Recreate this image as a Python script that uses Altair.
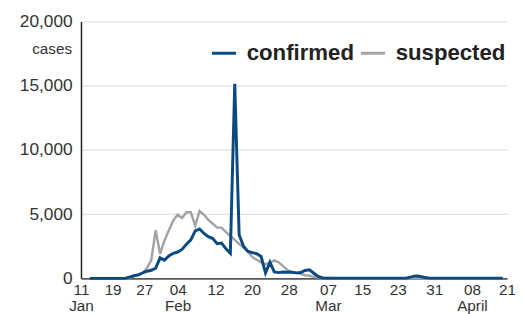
import json
import altair as alt
import pandas as pd

# day index: 0 = 11 Jan
days = list(range(2, 97))
confirmed = [
    0, 0, 0, 0, 0, 0, 0, 0, 0,
    100, 200, 260, 420, 560, 630, 800, 1600, 1420, 1750,
    1950, 2050, 2250, 2650, 3000, 3700, 3850, 3500, 3250, 3100,
    2700, 2750, 2300, 1950, 15150, 3400, 2500, 2100, 2000, 1920,
    1700, 420, 1250, 500, 450, 500, 470, 480, 430, 450,
    620, 660, 400, 150, 40, 20, 20, 20, 20, 20,
    20, 20, 20, 20, 20, 20, 20, 20, 20, 20,
    20, 20, 20, 20, 100, 190, 170, 90, 40, 20,
    20, 20, 20, 20, 20, 20, 20, 20, 20, 20,
    20, 20, 20, 20, 20, 20,
]
suspected = [
    0, 0, 0, 0, 0, 0, 0, 0, 0,
    50, 150, 300, 420, 800, 1400, 3750, 1900, 2950, 3750,
    4500, 4950, 4700, 5150, 5150, 4100, 5250, 4950, 4550, 4250,
    3950, 3950, 3600, 3300, 3000, 2680, 2400, 2100, 1650, 1450,
    1250, 1100, 1200, 1400, 1250, 950, 650, 500, 430, 350,
    250, 200, 120, 80, 50, 30, 25, 20, 15, 10,
    10, 10, 10, 10, 10, 10, 10, 10, 10, 10,
    10, 10, 10, 10, 10, 10, 10, 10, 10, 10,
    10, 10, 10, 10, 10, 10, 10, 10, 10, 10,
    10, 10, 10, 10, 10, 10,
]
series_names = ["confirmed", "suspected"]
series_colors = ["#0b4a80", "#a3a3a3"]

tick_pos = [0, 7.2, 14.4, 22.0, 30.6, 38.9, 47.3, 56.2, 64.0, 72.1, 80.4, 89.0, 97.0]
tick_text = ["11|Jan", "19", "27", "04|Feb", "12", "20", "28", "07|Mar",
             "15", "23", "31", "08|April", "21"]
y_ticks = [0, 5000, 10000, 15000, 20000]
unit_label = "cases"

FONT = "Liberation Sans, Arial, sans-serif"

df = pd.DataFrame({
    "day": days * 2,
    "value": confirmed + suspected,
    "series": ["confirmed"] * len(days) + ["suspected"] * len(days),
})

label_expr = "split(%s[indexof(%s, datum.value)], '|')" % (
    json.dumps(tick_text).replace('"', "'"), json.dumps(tick_pos))

x_enc = alt.X("day:Q",
              scale=alt.Scale(domain=[0, 97], nice=False, zero=False),
              axis=alt.Axis(values=tick_pos, labelExpr=label_expr, grid=False,
                            ticks=False, domainColor="#222", domainWidth=1.5,
                            labelFontSize=15.5, labelFont=FONT, labelColor="#333",
                            labelPadding=4, labelLineHeight=17, labelAlign="center",
                            labelBaseline="top", labelFlush=False,
                            labelOverlap=False, title=None))
y_enc = alt.Y("value:Q",
              scale=alt.Scale(domain=[0, 20000], nice=False),
              axis=alt.Axis(values=y_ticks, format=",d", grid=True,
                            gridColor="#d9d9d9", gridWidth=1, ticks=False,
                            domainColor="#222", domainWidth=1.5,
                            labelFontSize=17.5, labelFont=FONT, labelColor="#333",
                            labelPadding=9, title=None))
color_enc = alt.Color("series:N",
                      scale=alt.Scale(domain=series_names, range=series_colors),
                      legend=alt.Legend(orient="none", legendX=131, legendY=18,
                                        direction="horizontal", title=None,
                                        symbolType="stroke", symbolStrokeWidth=3,
                                        symbolSize=600, labelFont=FONT,
                                        labelFontSize=22.5, labelFontWeight="bold",
                                        labelColor="#222", labelOffset=9,
                                        columnPadding=0, labelLimit=300))

base = alt.Chart(df)
gray = base.transform_filter(alt.datum.series == "suspected").mark_line(
    strokeWidth=2.5).encode(x=x_enc, y=y_enc, color=color_enc)
blue = base.transform_filter(alt.datum.series == "confirmed").mark_line(
    strokeWidth=3).encode(x=x_enc, y=y_enc, color=color_enc)
label = alt.Chart(pd.DataFrame({"t": [unit_label]})).mark_text(
    align="right", baseline="alphabetic", font=FONT, fontSize=15.5, color="#333"
).encode(x=alt.value(-9), y=alt.datum(17500), text="t:N")

chart = alt.layer(gray, blue, label).properties(
    width=432, height=260.5,
    autosize=alt.AutoSizeParams(type="none"),
    padding={"left": 74, "top": 11.5, "right": 8, "bottom": 34},
).configure_view(stroke=None)

chart.save("out.html", embed_options={"renderer": "svg", "actions": False})
